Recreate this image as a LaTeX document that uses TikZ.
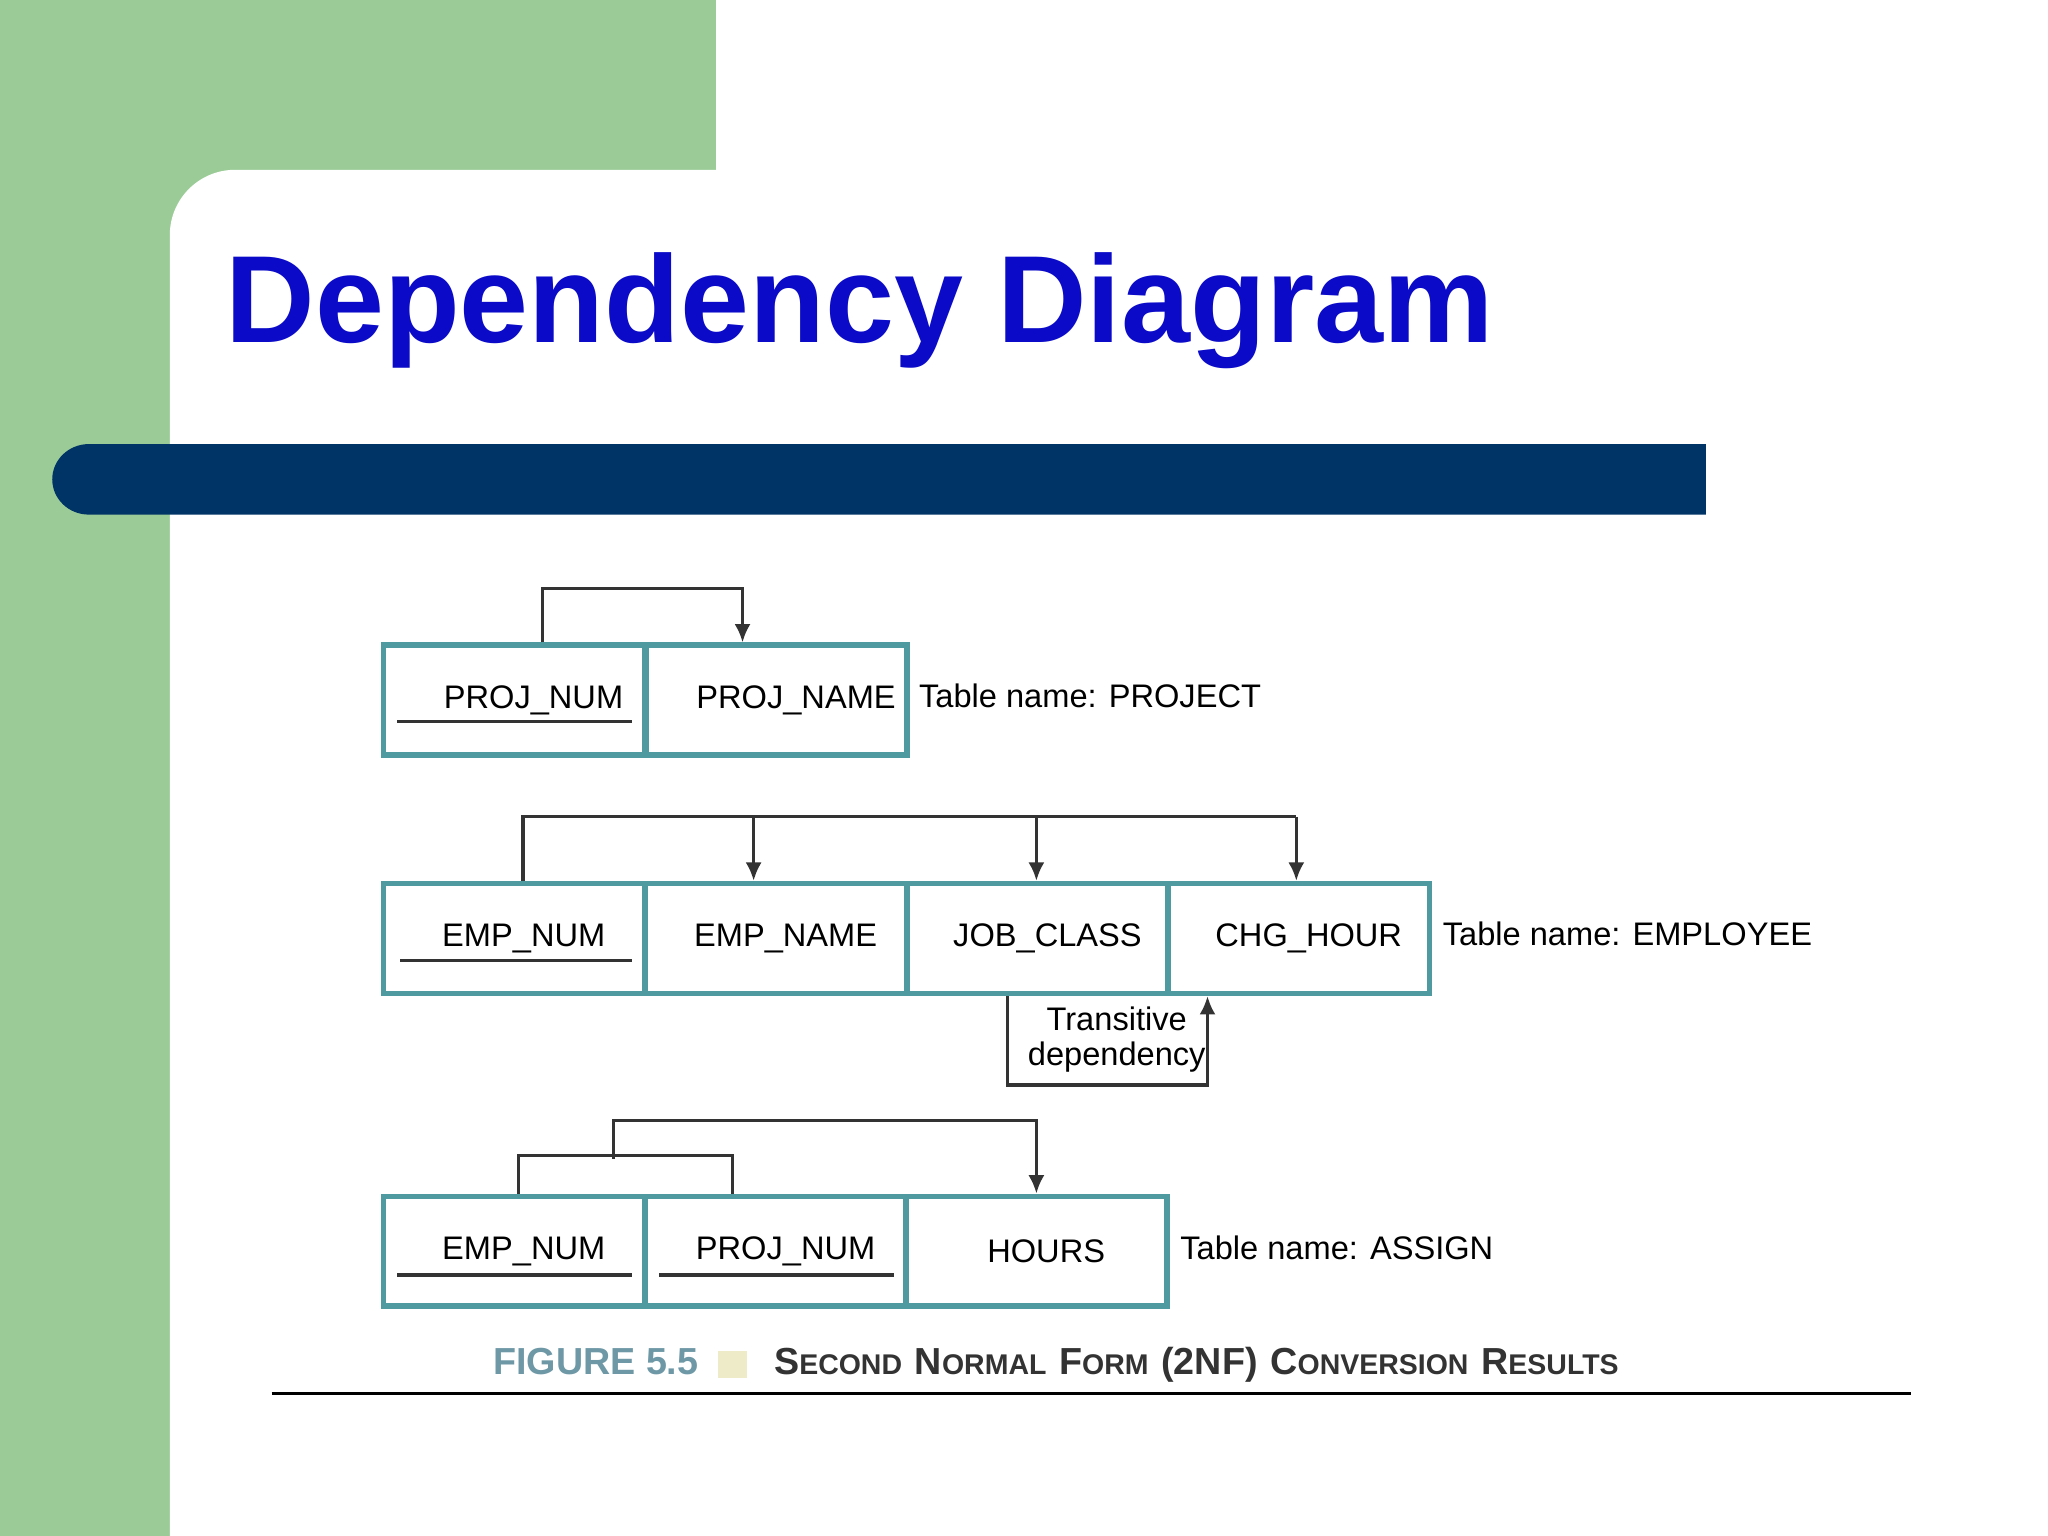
\documentclass[tikz,border=0pt]{standalone}
\usepackage{fontspec}
\setmainfont{Liberation Sans}
\usetikzlibrary{calc,arrows.meta}
\definecolor{slidegreen}{HTML}{9BCC97}
\definecolor{barblue}{HTML}{003366}
\definecolor{titleblue}{HTML}{0A0AC8}
\definecolor{cellteal}{HTML}{4F9AA0}
\definecolor{figgray}{HTML}{6E98A6}
\definecolor{chip}{HTML}{EEEBC8}
\newcommand{\capword}[2]{{\fontsize{8.2pt}{9pt}\selectfont #1}{\fontsize{6.2pt}{7pt}\selectfont #2}}
\tikzset{
  cell/.style={draw=cellteal, line width=1.2pt, minimum width=2.0cm, minimum height=0.84cm,
    inner sep=0pt, font=\fontsize{7.1pt}{8pt}\selectfont},
  dep/.style={draw=black!80, line width=0.7pt},
  deparrow/.style={dep, -{Latex[length=4pt,width=3.5pt]}},
  tname/.style={anchor=west, inner sep=0pt, font=\fontsize{7.1pt}{8pt}\selectfont}
}
\begin{document}
\begin{tikzpicture}[x=0.01cm, y=-0.01cm]
\useasboundingbox (0,0) rectangle (1568,1176);
% slide background
\fill[slidegreen] (0,0) rectangle (548,250);
\fill[slidegreen] (0,0) rectangle (130,1176);
\fill[white, rounded corners=0.5cm] (130,1300) |- (1700,130) -- (1700,1300) -- cycle;
\fill[barblue] (1306,340) -- (68,340) arc[start angle=90, end angle=270, x radius=28, y radius=-27] -- (1306,394) -- cycle;
\node[anchor=base west, inner sep=0pt, text=titleblue, font=\bfseries\fontsize{27pt}{30pt}\selectfont] (title) at (172,262) {Dependency Diagram};

% PROJECT
\node[cell] (pnum) at (393.5,536) {\hspace{1.2em}PROJ\_NUM};
\node[cell] (pname) at (594.5,536) {\hspace{1.2em}PROJ\_NAME};
\node[tname] (tproj) at (703,533) {Table name: PROJECT};
\draw[dep] ($(pnum.south west)+(13,-28)$) -- ($(pnum.south east)+(-12,-28)$);
\draw[deparrow] ($(pnum.north)+(22,0)$) -- ++(0,-41) -| ($(pname.north)+(-26,0)$);

% EMPLOYEE
\node[cell] (enum) at (393.5,718.5) {\hspace{0.6em}EMP\_NUM};
\node[cell] (ename) at (594,718.5) {\hspace{0.6em}EMP\_NAME};
\node[cell] (jclass) at (794.5,718.5) {\hspace{0.6em}JOB\_CLASS};
\node[cell] (chour) at (994.5,718.5) {\hspace{0.6em}CHG\_HOUR};
\node[tname] (temp) at (1104,715) {Table name: EMPLOYEE};
\draw[dep] ($(enum.south west)+(15,-27)$) -- ($(enum.south east)+(-12,-27)$);
\draw[dep] ($(enum.north)+(7,0)$) |- ($(chour.north)+(-2,-49)$);
\foreach \c/\dx in {ename/-17, jclass/-1, chour/-2}
  \draw[deparrow] ($(\c.north)+(\dx,-49)$) -- ($(\c.north)+(\dx,0)$);
\draw[deparrow] ($(jclass.south)+(-23,0)$) -- ++(0,68) -| ($(chour.south)+(-70,0)$);
\node[align=center, inner sep=0pt, font=\fontsize{7.1pt}{7.6pt}\selectfont] (trans) at (855,796) {Transitive\\dependency};

% ASSIGN
\node[cell] (anum) at (393.5,958) {\hspace{0.6em}EMP\_NUM};
\node[cell] (aproj) at (594,958) {\hspace{0.6em}PROJ\_NUM};
\node[cell] (ahours) at (793.5,958) {\hspace{0.6em}HOURS};
\node[tname] (tassign) at (903,955) {Table name: ASSIGN};
\draw[dep] ($(anum.south west)+(13,-26)$) -- ($(anum.south east)+(-12,-26)$);
\draw[dep] ($(aproj.south west)+(13,-26)$) -- ($(aproj.south east)+(-12,-26)$);
\draw[dep] ($(anum.north)+(3.5,0)$) -- ++(0,-29) -| ($(aproj.north)+(-33,0)$);
\coordinate (ajoin) at (470,887);
\draw[deparrow] (ajoin) -- ++(0,-29) -| (ahours.north);

% caption
\node[anchor=base west, inner sep=0pt, text=figgray, font=\bfseries\fontsize{8.2pt}{9pt}\selectfont] (fig) at (377,1052) {FIGURE 5.5};
\fill[chip] (550,1034) rectangle (572,1055);
\node[anchor=base west, inner sep=0pt, text=black!80, font=\bfseries] (cap) at (592,1052)
  {\capword{S}{ECOND} \capword{N}{ORMAL} \capword{F}{ORM} \capword{(2NF)}{} \capword{C}{ONVERSION} \capword{R}{ESULTS}};
\draw[line width=0.8pt] (208,1067) -- (1463,1067);
\end{tikzpicture}
\end{document}
